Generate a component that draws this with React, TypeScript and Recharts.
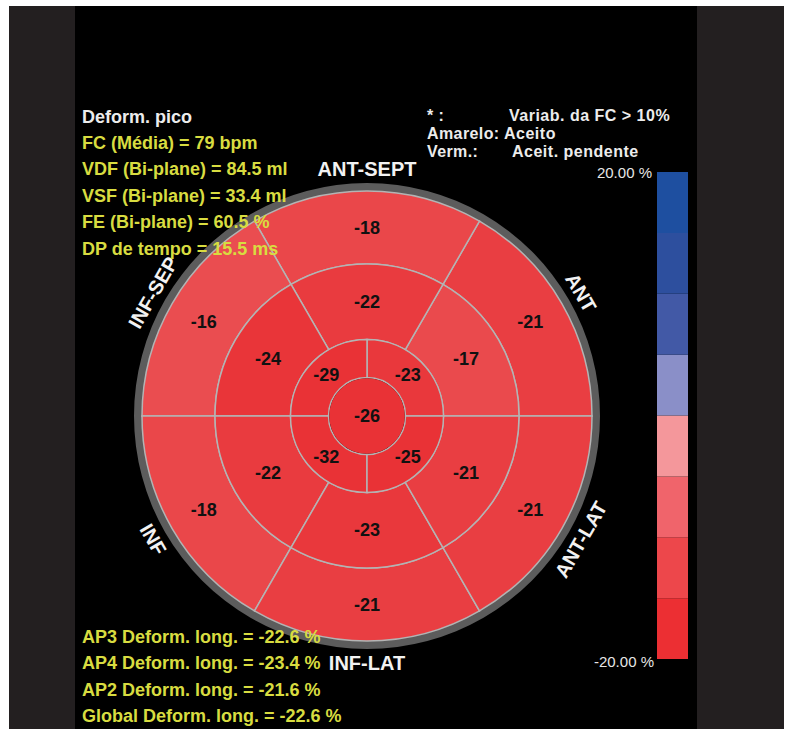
import * as React from "react";
import { PieChart, Pie, Cell, BarChart, Bar, XAxis, YAxis } from "recharts";

/* Segmentos (anti-horário a partir das 3h, como no Pie do Recharts) */
const wallNames = ["ANT", "ANT-SEPT", "INF-SEP", "INF", "INF-LAT", "ANT-LAT"];
const basalStrain = [-21, -18, -16, -18, -21, -21];
const midStrain = [-17, -22, -24, -22, -23, -21];
const apicalNames = ["ANT", "SEPT", "INF", "LAT"];
const apicalStrain = [-23, -29, -32, -25];
const apexStrain = [-26];

/* Escala de cor (de baixo para cima) */
const scaleMin = -20;
const scaleMax = 20;
const scaleColors = ["#ec2f33", "#ed474b", "#f0646b", "#f4979b", "#8a8fc8", "#4259a6", "#2d4f9e", "#1e4fa0"];

/* Textos */
const headerLine = "Deform. pico";
const infoLines = [
  "FC (Média) = 79 bpm",
  "VDF (Bi-plane) = 84.5 ml",
  "VSF (Bi-plane) = 33.4 ml",
  "FE (Bi-plane) = 60.5 %",
  "DP de tempo = 15.5 ms",
];
const legendKeys = ["* :", "Amarelo:", "Verm.:"];
const legendValues = ["Variab. da FC > 10%", "Aceito", "Aceit. pendente"];
const globalLines = [
  "AP3 Deform. long. = -22.6 %",
  "AP4 Deform. long. = -23.4 %",
  "AP2 Deform. long. = -21.6 %",
  "Global Deform. long. = -22.6 %",
];

const FONT = '"Liberation Sans", Arial, sans-serif';
const YELLOW = "#d8dc40";
const GRID = "#b4b4b4";
const CX = 367;
const CY = 416;
const RAD = Math.PI / 180;

const lerp = (a: number, b: number, t: number) => Math.round(a + (b - a) * t);
function strainFill(v: number) {
  const t = Math.max(0, Math.min(1, (v + 25) / 10));
  const c0 = [233, 50, 54];
  const c1 = [234, 80, 83];
  return `rgb(${lerp(c0[0], c1[0], t)},${lerp(c0[1], c1[1], t)},${lerp(c0[2], c1[2], t)})`;
}

const toRing = (names: string[], values: number[]) =>
  names.map((name, i) => ({ name, strain: values[i], slot: 1 }));

const basalData = toRing(wallNames, basalStrain);
const midData = toRing(wallNames, midStrain);
const apicalData = toRing(apicalNames, apicalStrain);
const apexData = toRing(["APEX"], apexStrain);
const wallData = wallNames.map((name) => ({ name, slot: 1 }));
const ringData = [{ name: "ring", slot: 1 }];

const binSize = (scaleMax - scaleMin) / scaleColors.length;
const scaleRow = [
  Object.fromEntries([["name", "scale"], ...scaleColors.map((_, i) => [`b${i}`, binSize])]),
];

function renderValue(p: any) {
  const r = p.innerRadius === 0 ? 0 : (p.innerRadius + p.outerRadius) / 2;
  const x = p.cx + r * Math.cos(-p.midAngle * RAD);
  const y = p.cy + r * Math.sin(-p.midAngle * RAD);
  const v = p.strain ?? p.payload?.strain;
  return (
    <text x={x} y={y} textAnchor="middle" dominantBaseline="central" fill="#111" fontFamily={FONT} fontSize={18} fontWeight="bold">
      {v}
    </text>
  );
}

function renderWall(p: any) {
  const r = 247;
  const a = p.midAngle;
  const x = p.cx + r * Math.cos(-a * RAD);
  const y = p.cy + r * Math.sin(-a * RAD);
  let rot = 90 - a;
  if (rot > 90) rot -= 180;
  if (rot < -90) rot += 180;
  const name = p.name ?? p.payload?.name;
  return (
    <text x={x} y={y} textAnchor="middle" dominantBaseline="central" transform={`rotate(${rot} ${x} ${y})`}
      fill="#f2f2f2" fontFamily={FONT} fontSize={20} fontWeight="bold">
      {name}
    </text>
  );
}

const txt = (left: number, cy: number, size: number, color: string, extra: React.CSSProperties = {}) => ({
  position: "absolute" as const,
  left,
  top: cy - size / 2,
  fontSize: size,
  lineHeight: `${size}px`,
  color,
  fontFamily: FONT,
  fontWeight: "bold" as const,
  whiteSpace: "nowrap" as const,
  ...extra,
});

export default function App() {
  return (
    <div style={{ position: "absolute", left: 0, top: 0, width: 787, height: 729, background: "#fff", overflow: "hidden" }}>
      <div style={{ position: "absolute", left: 9, top: 6, width: 775, height: 723, background: "#231f20" }} />
      <div style={{ position: "absolute", left: 75, top: 6, width: 622, height: 723, background: "#000" }} />

      <div style={{ position: "absolute", left: 0, top: 0 }}>
        <PieChart width={787} height={729} margin={{ top: 0, right: 0, bottom: 0, left: 0 }}>
          <Pie data={ringData} dataKey="slot" cx={CX} cy={CY} innerRadius={224} outerRadius={233}
            startAngle={0} endAngle={360} stroke="none" fill="#5c5c5c" isAnimationActive={false} />
          <Pie data={basalData} dataKey="slot" cx={CX} cy={CY} innerRadius={152} outerRadius={225}
            startAngle={0} endAngle={360} stroke={GRID} strokeWidth={1.5} label={renderValue} labelLine={false} isAnimationActive={false}>
            {basalData.map((d, i) => <Cell key={i} fill={strainFill(d.strain)} />)}
          </Pie>
          <Pie data={midData} dataKey="slot" cx={CX} cy={CY} innerRadius={76.5} outerRadius={152}
            startAngle={0} endAngle={360} stroke={GRID} strokeWidth={1.5} label={renderValue} labelLine={false} isAnimationActive={false}>
            {midData.map((d, i) => <Cell key={i} fill={strainFill(d.strain)} />)}
          </Pie>
          <Pie data={apicalData} dataKey="slot" cx={CX} cy={CY} innerRadius={38.5} outerRadius={76.5}
            startAngle={0} endAngle={360} stroke={GRID} strokeWidth={1.5} label={renderValue} labelLine={false} isAnimationActive={false}>
            {apicalData.map((d, i) => <Cell key={i} fill={strainFill(d.strain)} />)}
          </Pie>
          <Pie data={apexData} dataKey="slot" cx={CX} cy={CY} innerRadius={0} outerRadius={37.8}
            startAngle={0} endAngle={360} stroke="none" label={renderValue} labelLine={false} isAnimationActive={false}>
            {apexData.map((d, i) => <Cell key={i} fill={strainFill(d.strain)} />)}
          </Pie>
          <Pie data={wallData} dataKey="slot" cx={CX} cy={CY} innerRadius={236} outerRadius={258}
            startAngle={0} endAngle={360} stroke="none" fill="none" label={renderWall} labelLine={false} isAnimationActive={false} />
        </PieChart>
      </div>

      {/* barra de escala */}
      <div style={{ position: "absolute", left: 657, top: 172 }}>
        <BarChart width={31} height={487} data={scaleRow} margin={{ top: 0, right: 0, bottom: 0, left: 0 }} barCategoryGap={0}>
          <XAxis dataKey="name" hide />
          <YAxis hide domain={[0, scaleMax - scaleMin]} />
          {scaleColors.map((c, i) => (
            <Bar key={i} dataKey={`b${i}`} stackId="s" fill={c} isAnimationActive={false} />
          ))}
        </BarChart>
      </div>
      <div style={txt(0, 172, 15, "#e6e6e6", { fontWeight: "normal", left: "auto", right: 787 - 652 })}>
        {scaleMax.toFixed(2)} %
      </div>
      <div style={txt(0, 661, 15, "#e6e6e6", { fontWeight: "normal", left: "auto", right: 787 - 654 })}>
        {scaleMin.toFixed(2)} %
      </div>

      {/* textos */}
      <div style={txt(82, 117, 18, "#ececec")}>{headerLine}</div>
      {infoLines.map((l, i) => (
        <div key={l} style={txt(82, 143 + i * 26.4, 18, YELLOW)}>{l}</div>
      ))}
      {legendKeys.map((k, i) => (
        <div key={k} style={txt(427, 116 + i * 18, 16, "#ececec", { letterSpacing: 0.4 })}>{k}</div>
      ))}
      {legendValues.map((v, i) => (
        <div key={v} style={txt(i === 1 ? 504 : i === 2 ? 512 : 509, 116 + i * 18, 16, "#ececec", { letterSpacing: 0.5 })}>{v}</div>
      ))}
      {globalLines.map((l, i) => (
        <div key={l} style={txt(82, 637 + i * 26.4, 18, YELLOW)}>{l}</div>
      ))}
    </div>
  );
}
